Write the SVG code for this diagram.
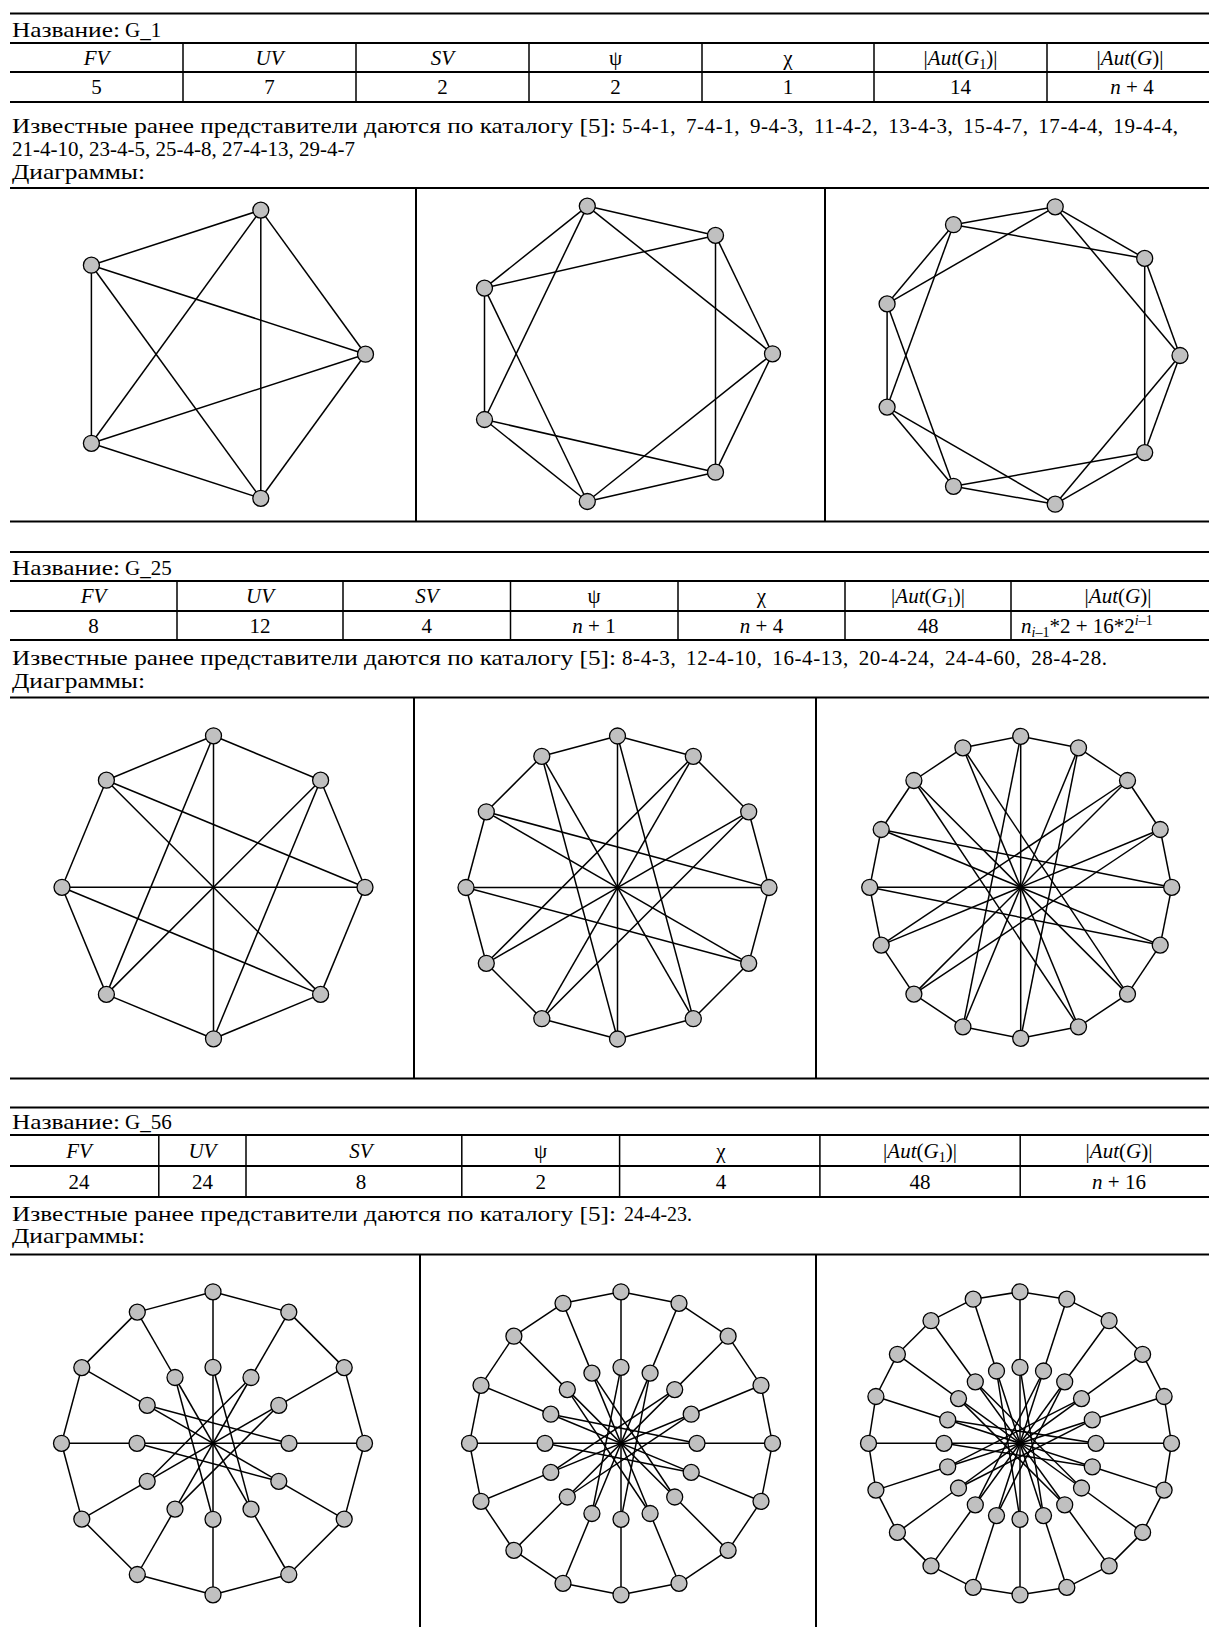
<svg xmlns="http://www.w3.org/2000/svg" width="1209" height="1627" viewBox="0 0 1209 1627">
<style>
text{font-family:"Liberation Serif","Times New Roman",serif;font-size:21px;fill:#000}
.c{text-anchor:middle}
.i{font-style:italic}
.hl{stroke:#000;stroke-width:2}
.vl{stroke:#000;stroke-width:1.5}
.e line{stroke:#000;stroke-width:1.5}
.n circle{fill:#c0c0c0;stroke:#000;stroke-width:1.3}
</style>
<rect width="1209" height="1627" fill="#fff"/>

<!-- ================= SECTION 1 ================= -->
<g id="table1">
<line class="hl" x1="10" y1="13.5" x2="1209" y2="13.5"/>
<line class="hl" x1="10" y1="43" x2="1209" y2="43"/>
<line class="hl" x1="10" y1="72" x2="1209" y2="72"/>
<line class="hl" x1="10" y1="102" x2="1209" y2="102"/>
<line class="vl" x1="183" y1="43" x2="183" y2="102"/>
<line class="vl" x1="356" y1="43" x2="356" y2="102"/>
<line class="vl" x1="529" y1="43" x2="529" y2="102"/>
<line class="vl" x1="702" y1="43" x2="702" y2="102"/>
<line class="vl" x1="874" y1="43" x2="874" y2="102"/>
<line class="vl" x1="1047" y1="43" x2="1047" y2="102"/>
<text x="12" y="37" textLength="108" lengthAdjust="spacingAndGlyphs">Название:</text>
<text x="125" y="37">G_1</text>
<text x="96.5" y="64.5" class="c i">FV</text>
<text x="269.5" y="64.5" class="c i">UV</text>
<text x="442.5" y="64.5" class="c i">SV</text>
<text x="615.5" y="64.5" class="c">ψ</text>
<text x="788" y="64.5" class="c">χ</text>
<text x="960.5" y="64.5" class="c">|<tspan class="i">Aut</tspan>(<tspan class="i">G</tspan><tspan font-size="14" dy="4">1</tspan><tspan dy="-4">)|</tspan></text>
<text x="1130" y="64.5" class="c">|<tspan class="i">Aut</tspan>(<tspan class="i">G</tspan>)|</text>
<text x="96.5" y="94" class="c">5</text>
<text x="269.5" y="94" class="c">7</text>
<text x="442.5" y="94" class="c">2</text>
<text x="615.5" y="94" class="c">2</text>
<text x="788" y="94" class="c">1</text>
<text x="960.5" y="94" class="c">14</text>
<text x="1132" y="94" class="c"><tspan class="i">n</tspan> + 4</text>
<text x="12" y="132.5" textLength="604" lengthAdjust="spacingAndGlyphs">Известные ранее представители даются по каталогу [5]:</text>
<text x="622" y="132.5" style="word-spacing:4px" textLength="556" lengthAdjust="spacing">5-4-1, 7-4-1, 9-4-3, 11-4-2, 13-4-3, 15-4-7, 17-4-4, 19-4-4,</text>
<text x="12" y="156">21-4-10, 23-4-5, 25-4-8, 27-4-13, 29-4-7</text>
<text x="12" y="179" textLength="133" lengthAdjust="spacingAndGlyphs">Диаграммы:</text>
<line class="hl" x1="10" y1="188" x2="1209" y2="188"/>
<line class="hl" x1="10" y1="521.5" x2="1209" y2="521.5"/>
<line class="hl" x1="416" y1="188" x2="416" y2="521.5"/>
<line class="hl" x1="825" y1="188" x2="825" y2="521.5"/>
</g>

<g id="edges1" class="e">
<line x1="365.5" y1="354.2" x2="260.8" y2="210.1"/>
<line x1="365.5" y1="354.2" x2="91.4" y2="265.2"/>
<line x1="365.5" y1="354.2" x2="91.4" y2="443.3"/>
<line x1="365.5" y1="354.2" x2="260.8" y2="498.3"/>
<line x1="260.8" y1="210.1" x2="91.4" y2="265.2"/>
<line x1="260.8" y1="210.1" x2="91.4" y2="443.3"/>
<line x1="260.8" y1="210.1" x2="260.8" y2="498.3"/>
<line x1="91.4" y1="265.2" x2="91.4" y2="443.3"/>
<line x1="91.4" y1="265.2" x2="260.8" y2="498.3"/>
<line x1="91.4" y1="443.3" x2="260.8" y2="498.3"/>

<line x1="772.5" y1="353.8" x2="715.5" y2="235.4"/>
<line x1="715.5" y1="235.4" x2="587.3" y2="206.1"/>
<line x1="587.3" y1="206.1" x2="484.5" y2="288.1"/>
<line x1="484.5" y1="288.1" x2="484.5" y2="419.5"/>
<line x1="484.5" y1="419.5" x2="587.3" y2="501.5"/>
<line x1="587.3" y1="501.5" x2="715.5" y2="472.2"/>
<line x1="715.5" y1="472.2" x2="772.5" y2="353.8"/>
<line x1="772.5" y1="353.8" x2="587.3" y2="206.1"/>
<line x1="715.5" y1="235.4" x2="484.5" y2="288.1"/>
<line x1="587.3" y1="206.1" x2="484.5" y2="419.5"/>
<line x1="484.5" y1="288.1" x2="587.3" y2="501.5"/>
<line x1="484.5" y1="419.5" x2="715.5" y2="472.2"/>
<line x1="587.3" y1="501.5" x2="772.5" y2="353.8"/>
<line x1="715.5" y1="472.2" x2="715.5" y2="235.4"/>

<line x1="1180" y1="355.5" x2="1144.7" y2="258.4"/>
<line x1="1144.7" y1="258.4" x2="1055.2" y2="206.8"/>
<line x1="1055.2" y1="206.8" x2="953.5" y2="224.7"/>
<line x1="953.5" y1="224.7" x2="887.1" y2="303.9"/>
<line x1="887.1" y1="303.9" x2="887.1" y2="407.1"/>
<line x1="887.1" y1="407.1" x2="953.5" y2="486.3"/>
<line x1="953.5" y1="486.3" x2="1055.2" y2="504.2"/>
<line x1="1055.2" y1="504.2" x2="1144.7" y2="452.6"/>
<line x1="1144.7" y1="452.6" x2="1180" y2="355.5"/>
<line x1="1180" y1="355.5" x2="1055.2" y2="206.8"/>
<line x1="1144.7" y1="258.4" x2="953.5" y2="224.7"/>
<line x1="1055.2" y1="206.8" x2="887.1" y2="303.9"/>
<line x1="953.5" y1="224.7" x2="887.1" y2="407.1"/>
<line x1="887.1" y1="303.9" x2="953.5" y2="486.3"/>
<line x1="887.1" y1="407.1" x2="1055.2" y2="504.2"/>
<line x1="953.5" y1="486.3" x2="1144.7" y2="452.6"/>
<line x1="1055.2" y1="504.2" x2="1180" y2="355.5"/>
<line x1="1144.7" y1="452.6" x2="1144.7" y2="258.4"/>
</g>

<g id="nodes1" class="n">
<g id="a0"><circle cx="365.5" cy="354.2" r="8"/></g>
<g id="a1"><circle cx="260.8" cy="210.1" r="8"/></g>
<g id="a2"><circle cx="91.4" cy="265.2" r="8"/></g>
<g id="a3"><circle cx="91.4" cy="443.3" r="8"/></g>
<g id="a4"><circle cx="260.8" cy="498.3" r="8"/></g>
<g id="b0"><circle cx="772.5" cy="353.8" r="8"/></g>
<g id="b1"><circle cx="715.5" cy="235.4" r="8"/></g>
<g id="b2"><circle cx="587.3" cy="206.1" r="8"/></g>
<g id="b3"><circle cx="484.5" cy="288.1" r="8"/></g>
<g id="b4"><circle cx="484.5" cy="419.5" r="8"/></g>
<g id="b5"><circle cx="587.3" cy="501.5" r="8"/></g>
<g id="b6"><circle cx="715.5" cy="472.2" r="8"/></g>
<g id="c0"><circle cx="1180" cy="355.5" r="8"/></g>
<g id="c1"><circle cx="1144.7" cy="258.4" r="8"/></g>
<g id="c2"><circle cx="1055.2" cy="206.8" r="8"/></g>
<g id="c3"><circle cx="953.5" cy="224.7" r="8"/></g>
<g id="c4"><circle cx="887.1" cy="303.9" r="8"/></g>
<g id="c5"><circle cx="887.1" cy="407.1" r="8"/></g>
<g id="c6"><circle cx="953.5" cy="486.3" r="8"/></g>
<g id="c7"><circle cx="1055.2" cy="504.2" r="8"/></g>
<g id="c8"><circle cx="1144.7" cy="452.6" r="8"/></g>
</g>

<!-- ================= SECTION 2 ================= -->
<g id="table2">
<line class="hl" x1="10" y1="552" x2="1209" y2="552"/>
<line class="hl" x1="10" y1="581" x2="1209" y2="581"/>
<line class="hl" x1="10" y1="611" x2="1209" y2="611"/>
<line class="hl" x1="10" y1="640" x2="1209" y2="640"/>
<line class="vl" x1="177" y1="581" x2="177" y2="640"/>
<line class="vl" x1="343" y1="581" x2="343" y2="640"/>
<line class="vl" x1="510.5" y1="581" x2="510.5" y2="640"/>
<line class="vl" x1="678" y1="581" x2="678" y2="640"/>
<line class="vl" x1="845" y1="581" x2="845" y2="640"/>
<line class="vl" x1="1011" y1="581" x2="1011" y2="640"/>
<text x="12" y="575" textLength="108" lengthAdjust="spacingAndGlyphs">Название:</text>
<text x="125" y="575">G_25</text>
<text x="93.5" y="603" class="c i">FV</text>
<text x="260" y="603" class="c i">UV</text>
<text x="426.8" y="603" class="c i">SV</text>
<text x="594" y="603" class="c">ψ</text>
<text x="761.5" y="603" class="c">χ</text>
<text x="928" y="603" class="c">|<tspan class="i">Aut</tspan>(<tspan class="i">G</tspan><tspan font-size="14" dy="4">1</tspan><tspan dy="-4">)|</tspan></text>
<text x="1118" y="603" class="c">|<tspan class="i">Aut</tspan>(<tspan class="i">G</tspan>)|</text>
<text x="93.5" y="632.5" class="c">8</text>
<text x="260" y="632.5" class="c">12</text>
<text x="426.8" y="632.5" class="c">4</text>
<text x="594" y="632.5" class="c"><tspan class="i">n</tspan> + 1</text>
<text x="761.5" y="632.5" class="c"><tspan class="i">n</tspan> + 4</text>
<text x="928" y="632.5" class="c">48</text>
<text x="1021" y="632.5"><tspan class="i">n</tspan><tspan class="i" font-size="14" dy="4">i</tspan><tspan font-size="14">–1</tspan><tspan dy="-4">*2 + 16*2</tspan><tspan class="i" font-size="14" dy="-8">i</tspan><tspan font-size="14">–1</tspan></text>
<text x="12" y="664.5" textLength="604" lengthAdjust="spacingAndGlyphs">Известные ранее представители даются по каталогу [5]:</text>
<text x="622" y="664.5" style="word-spacing:4px" textLength="485" lengthAdjust="spacing">8-4-3, 12-4-10, 16-4-13, 20-4-24, 24-4-60, 28-4-28.</text>
<text x="12" y="688" textLength="133" lengthAdjust="spacingAndGlyphs">Диаграммы:</text>
<line class="hl" x1="10" y1="697.5" x2="1209" y2="697.5"/>
<line class="hl" x1="10" y1="1078.5" x2="1209" y2="1078.5"/>
<line class="hl" x1="414" y1="697.5" x2="414" y2="1078.5"/>
<line class="hl" x1="816" y1="697.5" x2="816" y2="1078.5"/>
</g>

<g id="edges2" class="e">
<line x1="365" y1="887.3" x2="320.6" y2="780.2"/>
<line x1="320.6" y1="780.2" x2="213.5" y2="735.8"/>
<line x1="213.5" y1="735.8" x2="106.4" y2="780.2"/>
<line x1="106.4" y1="780.2" x2="62" y2="887.3"/>
<line x1="62" y1="887.3" x2="106.4" y2="994.4"/>
<line x1="106.4" y1="994.4" x2="213.5" y2="1038.8"/>
<line x1="213.5" y1="1038.8" x2="320.6" y2="994.4"/>
<line x1="320.6" y1="994.4" x2="365" y2="887.3"/>
<line x1="365" y1="887.3" x2="62" y2="887.3"/>
<line x1="320.6" y1="780.2" x2="106.4" y2="994.4"/>
<line x1="213.5" y1="735.8" x2="213.5" y2="1038.8"/>
<line x1="106.4" y1="780.2" x2="320.6" y2="994.4"/>
<line x1="365" y1="887.3" x2="106.4" y2="780.2"/>
<line x1="213.5" y1="735.8" x2="106.4" y2="994.4"/>
<line x1="62" y1="887.3" x2="320.6" y2="994.4"/>
<line x1="213.5" y1="1038.8" x2="320.6" y2="780.2"/>
<line x1="769" y1="887.5" x2="748.7" y2="811.8"/>
<line x1="748.7" y1="811.8" x2="693.3" y2="756.3"/>
<line x1="693.3" y1="756.3" x2="617.5" y2="736"/>
<line x1="617.5" y1="736" x2="541.8" y2="756.3"/>
<line x1="541.8" y1="756.3" x2="486.3" y2="811.8"/>
<line x1="486.3" y1="811.8" x2="466" y2="887.5"/>
<line x1="466" y1="887.5" x2="486.3" y2="963.3"/>
<line x1="486.3" y1="963.3" x2="541.8" y2="1018.7"/>
<line x1="541.8" y1="1018.7" x2="617.5" y2="1039"/>
<line x1="617.5" y1="1039" x2="693.3" y2="1018.7"/>
<line x1="693.3" y1="1018.7" x2="748.7" y2="963.3"/>
<line x1="748.7" y1="963.3" x2="769" y2="887.5"/>
<line x1="769" y1="887.5" x2="466" y2="887.5"/>
<line x1="748.7" y1="811.8" x2="486.3" y2="963.3"/>
<line x1="693.3" y1="756.3" x2="541.8" y2="1018.7"/>
<line x1="617.5" y1="736" x2="617.5" y2="1039"/>
<line x1="541.8" y1="756.3" x2="693.3" y2="1018.7"/>
<line x1="486.3" y1="811.8" x2="748.7" y2="963.3"/>
<line x1="769" y1="887.5" x2="486.3" y2="811.8"/>
<line x1="693.3" y1="756.3" x2="486.3" y2="963.3"/>
<line x1="541.8" y1="756.3" x2="617.5" y2="1039"/>
<line x1="466" y1="887.5" x2="748.7" y2="963.3"/>
<line x1="541.8" y1="1018.7" x2="748.7" y2="811.8"/>
<line x1="693.3" y1="1018.7" x2="617.5" y2="736"/>
<line x1="1171.7" y1="887.3" x2="1160.2" y2="829.5"/>
<line x1="1160.2" y1="829.5" x2="1127.5" y2="780.5"/>
<line x1="1127.5" y1="780.5" x2="1078.5" y2="747.8"/>
<line x1="1078.5" y1="747.8" x2="1020.7" y2="736.3"/>
<line x1="1020.7" y1="736.3" x2="962.9" y2="747.8"/>
<line x1="962.9" y1="747.8" x2="913.9" y2="780.5"/>
<line x1="913.9" y1="780.5" x2="881.2" y2="829.5"/>
<line x1="881.2" y1="829.5" x2="869.7" y2="887.3"/>
<line x1="869.7" y1="887.3" x2="881.2" y2="945.1"/>
<line x1="881.2" y1="945.1" x2="913.9" y2="994.1"/>
<line x1="913.9" y1="994.1" x2="962.9" y2="1026.8"/>
<line x1="962.9" y1="1026.8" x2="1020.7" y2="1038.3"/>
<line x1="1020.7" y1="1038.3" x2="1078.5" y2="1026.8"/>
<line x1="1078.5" y1="1026.8" x2="1127.5" y2="994.1"/>
<line x1="1127.5" y1="994.1" x2="1160.2" y2="945.1"/>
<line x1="1160.2" y1="945.1" x2="1171.7" y2="887.3"/>
<line x1="1171.7" y1="887.3" x2="869.7" y2="887.3"/>
<line x1="1160.2" y1="829.5" x2="881.2" y2="945.1"/>
<line x1="1127.5" y1="780.5" x2="913.9" y2="994.1"/>
<line x1="1078.5" y1="747.8" x2="962.9" y2="1026.8"/>
<line x1="1020.7" y1="736.3" x2="1020.7" y2="1038.3"/>
<line x1="962.9" y1="747.8" x2="1078.5" y2="1026.8"/>
<line x1="913.9" y1="780.5" x2="1127.5" y2="994.1"/>
<line x1="881.2" y1="829.5" x2="1160.2" y2="945.1"/>
<line x1="1171.7" y1="887.3" x2="881.2" y2="829.5"/>
<line x1="1127.5" y1="780.5" x2="881.2" y2="945.1"/>
<line x1="1020.7" y1="736.3" x2="962.9" y2="1026.8"/>
<line x1="913.9" y1="780.5" x2="1078.5" y2="1026.8"/>
<line x1="869.7" y1="887.3" x2="1160.2" y2="945.1"/>
<line x1="913.9" y1="994.1" x2="1160.2" y2="829.5"/>
<line x1="1020.7" y1="1038.3" x2="1078.5" y2="747.8"/>
<line x1="1127.5" y1="994.1" x2="962.9" y2="747.8"/>
</g>

<g id="nodes2" class="n">
<g id="d0"><circle cx="365" cy="887.3" r="8"/></g>
<g id="d1"><circle cx="320.6" cy="780.2" r="8"/></g>
<g id="d2"><circle cx="213.5" cy="735.8" r="8"/></g>
<g id="d3"><circle cx="106.4" cy="780.2" r="8"/></g>
<g id="d4"><circle cx="62" cy="887.3" r="8"/></g>
<g id="d5"><circle cx="106.4" cy="994.4" r="8"/></g>
<g id="d6"><circle cx="213.5" cy="1038.8" r="8"/></g>
<g id="d7"><circle cx="320.6" cy="994.4" r="8"/></g>
<g id="e0"><circle cx="769" cy="887.5" r="8"/></g>
<g id="e1"><circle cx="748.7" cy="811.8" r="8"/></g>
<g id="e2"><circle cx="693.3" cy="756.3" r="8"/></g>
<g id="e3"><circle cx="617.5" cy="736" r="8"/></g>
<g id="e4"><circle cx="541.8" cy="756.3" r="8"/></g>
<g id="e5"><circle cx="486.3" cy="811.8" r="8"/></g>
<g id="e6"><circle cx="466" cy="887.5" r="8"/></g>
<g id="e7"><circle cx="486.3" cy="963.3" r="8"/></g>
<g id="e8"><circle cx="541.8" cy="1018.7" r="8"/></g>
<g id="e9"><circle cx="617.5" cy="1039" r="8"/></g>
<g id="e10"><circle cx="693.3" cy="1018.7" r="8"/></g>
<g id="e11"><circle cx="748.7" cy="963.3" r="8"/></g>
<g id="f0"><circle cx="1171.7" cy="887.3" r="8"/></g>
<g id="f1"><circle cx="1160.2" cy="829.5" r="8"/></g>
<g id="f2"><circle cx="1127.5" cy="780.5" r="8"/></g>
<g id="f3"><circle cx="1078.5" cy="747.8" r="8"/></g>
<g id="f4"><circle cx="1020.7" cy="736.3" r="8"/></g>
<g id="f5"><circle cx="962.9" cy="747.8" r="8"/></g>
<g id="f6"><circle cx="913.9" cy="780.5" r="8"/></g>
<g id="f7"><circle cx="881.2" cy="829.5" r="8"/></g>
<g id="f8"><circle cx="869.7" cy="887.3" r="8"/></g>
<g id="f9"><circle cx="881.2" cy="945.1" r="8"/></g>
<g id="f10"><circle cx="913.9" cy="994.1" r="8"/></g>
<g id="f11"><circle cx="962.9" cy="1026.8" r="8"/></g>
<g id="f12"><circle cx="1020.7" cy="1038.3" r="8"/></g>
<g id="f13"><circle cx="1078.5" cy="1026.8" r="8"/></g>
<g id="f14"><circle cx="1127.5" cy="994.1" r="8"/></g>
<g id="f15"><circle cx="1160.2" cy="945.1" r="8"/></g>
</g>

<!-- ================= SECTION 3 ================= -->
<g id="table3">
<line class="hl" x1="10" y1="1107.5" x2="1209" y2="1107.5"/>
<line class="hl" x1="10" y1="1135" x2="1209" y2="1135"/>
<line class="hl" x1="10" y1="1166" x2="1209" y2="1166"/>
<line class="hl" x1="10" y1="1197" x2="1209" y2="1197"/>
<line class="vl" x1="158.8" y1="1135" x2="158.8" y2="1197"/>
<line class="vl" x1="246" y1="1135" x2="246" y2="1197"/>
<line class="vl" x1="461.8" y1="1135" x2="461.8" y2="1197"/>
<line class="vl" x1="619.6" y1="1135" x2="619.6" y2="1197"/>
<line class="vl" x1="819.9" y1="1135" x2="819.9" y2="1197"/>
<line class="vl" x1="1020.2" y1="1135" x2="1020.2" y2="1197"/>
<text x="12" y="1129" textLength="108" lengthAdjust="spacingAndGlyphs">Название:</text>
<text x="125" y="1129">G_56</text>
<text x="79" y="1157.5" class="c i">FV</text>
<text x="202.4" y="1157.5" class="c i">UV</text>
<text x="361" y="1157.5" class="c i">SV</text>
<text x="540.7" y="1157.5" class="c">ψ</text>
<text x="721" y="1157.5" class="c">χ</text>
<text x="920" y="1157.5" class="c">|<tspan class="i">Aut</tspan>(<tspan class="i">G</tspan><tspan font-size="14" dy="4">1</tspan><tspan dy="-4">)|</tspan></text>
<text x="1119" y="1157.5" class="c">|<tspan class="i">Aut</tspan>(<tspan class="i">G</tspan>)|</text>
<text x="79" y="1188.5" class="c">24</text>
<text x="202.4" y="1188.5" class="c">24</text>
<text x="361" y="1188.5" class="c">8</text>
<text x="540.7" y="1188.5" class="c">2</text>
<text x="721" y="1188.5" class="c">4</text>
<text x="920" y="1188.5" class="c">48</text>
<text x="1119" y="1188.5" class="c"><tspan class="i">n</tspan> + 16</text>
<text x="12" y="1221" textLength="604" lengthAdjust="spacingAndGlyphs">Известные ранее представители даются по каталогу [5]:</text>
<text x="624" y="1221" textLength="68" lengthAdjust="spacingAndGlyphs">24-4-23.</text>
<text x="12" y="1243" textLength="133" lengthAdjust="spacingAndGlyphs">Диаграммы:</text>
<line class="hl" x1="10" y1="1254.5" x2="1209" y2="1254.5"/>
<line class="hl" x1="420" y1="1254.5" x2="420" y2="1627"/>
<line class="hl" x1="816" y1="1254.5" x2="816" y2="1627"/>
</g>

<g id="edges3" class="e">
<line x1="364.5" y1="1443.3" x2="344.2" y2="1367.6"/>
<line x1="344.2" y1="1367.6" x2="288.8" y2="1312.1"/>
<line x1="288.8" y1="1312.1" x2="213" y2="1291.8"/>
<line x1="213" y1="1291.8" x2="137.3" y2="1312.1"/>
<line x1="137.3" y1="1312.1" x2="81.8" y2="1367.6"/>
<line x1="81.8" y1="1367.6" x2="61.5" y2="1443.3"/>
<line x1="61.5" y1="1443.3" x2="81.8" y2="1519.1"/>
<line x1="81.8" y1="1519.1" x2="137.3" y2="1574.5"/>
<line x1="137.3" y1="1574.5" x2="213" y2="1594.8"/>
<line x1="213" y1="1594.8" x2="288.8" y2="1574.5"/>
<line x1="288.8" y1="1574.5" x2="344.2" y2="1519.1"/>
<line x1="344.2" y1="1519.1" x2="364.5" y2="1443.3"/>
<line x1="364.5" y1="1443.3" x2="289" y2="1443.3"/>
<line x1="344.2" y1="1367.6" x2="278.8" y2="1405.3"/>
<line x1="288.8" y1="1312.1" x2="251" y2="1377.5"/>
<line x1="213" y1="1291.8" x2="213" y2="1367.3"/>
<line x1="137.3" y1="1312.1" x2="175" y2="1377.5"/>
<line x1="81.8" y1="1367.6" x2="147.2" y2="1405.3"/>
<line x1="61.5" y1="1443.3" x2="137" y2="1443.3"/>
<line x1="81.8" y1="1519.1" x2="147.2" y2="1481.3"/>
<line x1="137.3" y1="1574.5" x2="175" y2="1509.1"/>
<line x1="213" y1="1594.8" x2="213" y2="1519.3"/>
<line x1="288.8" y1="1574.5" x2="251" y2="1509.1"/>
<line x1="344.2" y1="1519.1" x2="278.8" y2="1481.3"/>
<line x1="289" y1="1443.3" x2="137" y2="1443.3"/>
<line x1="278.8" y1="1405.3" x2="147.2" y2="1481.3"/>
<line x1="251" y1="1377.5" x2="175" y2="1509.1"/>
<line x1="213" y1="1367.3" x2="213" y2="1519.3"/>
<line x1="175" y1="1377.5" x2="251" y2="1509.1"/>
<line x1="147.2" y1="1405.3" x2="278.8" y2="1481.3"/>
<line x1="289" y1="1443.3" x2="147.2" y2="1405.3"/>
<line x1="251" y1="1377.5" x2="147.2" y2="1481.3"/>
<line x1="175" y1="1377.5" x2="213" y2="1519.3"/>
<line x1="137" y1="1443.3" x2="278.8" y2="1481.3"/>
<line x1="175" y1="1509.1" x2="278.8" y2="1405.3"/>
<line x1="251" y1="1509.1" x2="213" y2="1367.3"/>
<line x1="772.5" y1="1443.3" x2="761" y2="1385.3"/>
<line x1="761" y1="1385.3" x2="728.1" y2="1336.2"/>
<line x1="728.1" y1="1336.2" x2="679" y2="1303.3"/>
<line x1="679" y1="1303.3" x2="621" y2="1291.8"/>
<line x1="621" y1="1291.8" x2="563" y2="1303.3"/>
<line x1="563" y1="1303.3" x2="513.9" y2="1336.2"/>
<line x1="513.9" y1="1336.2" x2="481" y2="1385.3"/>
<line x1="481" y1="1385.3" x2="469.5" y2="1443.3"/>
<line x1="469.5" y1="1443.3" x2="481" y2="1501.3"/>
<line x1="481" y1="1501.3" x2="513.9" y2="1550.4"/>
<line x1="513.9" y1="1550.4" x2="563" y2="1583.3"/>
<line x1="563" y1="1583.3" x2="621" y2="1594.8"/>
<line x1="621" y1="1594.8" x2="679" y2="1583.3"/>
<line x1="679" y1="1583.3" x2="728.1" y2="1550.4"/>
<line x1="728.1" y1="1550.4" x2="761" y2="1501.3"/>
<line x1="761" y1="1501.3" x2="772.5" y2="1443.3"/>
<line x1="772.5" y1="1443.3" x2="697" y2="1443.3"/>
<line x1="761" y1="1385.3" x2="691.2" y2="1414.2"/>
<line x1="728.1" y1="1336.2" x2="674.7" y2="1389.6"/>
<line x1="679" y1="1303.3" x2="650.1" y2="1373.1"/>
<line x1="621" y1="1291.8" x2="621" y2="1367.3"/>
<line x1="563" y1="1303.3" x2="591.9" y2="1373.1"/>
<line x1="513.9" y1="1336.2" x2="567.3" y2="1389.6"/>
<line x1="481" y1="1385.3" x2="550.8" y2="1414.2"/>
<line x1="469.5" y1="1443.3" x2="545" y2="1443.3"/>
<line x1="481" y1="1501.3" x2="550.8" y2="1472.4"/>
<line x1="513.9" y1="1550.4" x2="567.3" y2="1497"/>
<line x1="563" y1="1583.3" x2="591.9" y2="1513.5"/>
<line x1="621" y1="1594.8" x2="621" y2="1519.3"/>
<line x1="679" y1="1583.3" x2="650.1" y2="1513.5"/>
<line x1="728.1" y1="1550.4" x2="674.7" y2="1497"/>
<line x1="761" y1="1501.3" x2="691.2" y2="1472.4"/>
<line x1="697" y1="1443.3" x2="545" y2="1443.3"/>
<line x1="691.2" y1="1414.2" x2="550.8" y2="1472.4"/>
<line x1="674.7" y1="1389.6" x2="567.3" y2="1497"/>
<line x1="650.1" y1="1373.1" x2="591.9" y2="1513.5"/>
<line x1="621" y1="1367.3" x2="621" y2="1519.3"/>
<line x1="591.9" y1="1373.1" x2="650.1" y2="1513.5"/>
<line x1="567.3" y1="1389.6" x2="674.7" y2="1497"/>
<line x1="550.8" y1="1414.2" x2="691.2" y2="1472.4"/>
<line x1="697" y1="1443.3" x2="550.8" y2="1414.2"/>
<line x1="674.7" y1="1389.6" x2="550.8" y2="1472.4"/>
<line x1="621" y1="1367.3" x2="591.9" y2="1513.5"/>
<line x1="567.3" y1="1389.6" x2="650.1" y2="1513.5"/>
<line x1="545" y1="1443.3" x2="691.2" y2="1472.4"/>
<line x1="567.3" y1="1497" x2="691.2" y2="1414.2"/>
<line x1="621" y1="1519.3" x2="650.1" y2="1373.1"/>
<line x1="674.7" y1="1497" x2="591.9" y2="1373.1"/>
<line x1="1171.5" y1="1443.3" x2="1164.1" y2="1396.5"/>
<line x1="1164.1" y1="1396.5" x2="1142.6" y2="1354.3"/>
<line x1="1142.6" y1="1354.3" x2="1109.1" y2="1320.7"/>
<line x1="1109.1" y1="1320.7" x2="1066.8" y2="1299.2"/>
<line x1="1066.8" y1="1299.2" x2="1020" y2="1291.8"/>
<line x1="1020" y1="1291.8" x2="973.2" y2="1299.2"/>
<line x1="973.2" y1="1299.2" x2="931" y2="1320.7"/>
<line x1="931" y1="1320.7" x2="897.4" y2="1354.3"/>
<line x1="897.4" y1="1354.3" x2="875.9" y2="1396.5"/>
<line x1="875.9" y1="1396.5" x2="868.5" y2="1443.3"/>
<line x1="868.5" y1="1443.3" x2="875.9" y2="1490.1"/>
<line x1="875.9" y1="1490.1" x2="897.4" y2="1532.4"/>
<line x1="897.4" y1="1532.4" x2="931" y2="1565.9"/>
<line x1="931" y1="1565.9" x2="973.2" y2="1587.4"/>
<line x1="973.2" y1="1587.4" x2="1020" y2="1594.8"/>
<line x1="1020" y1="1594.8" x2="1066.8" y2="1587.4"/>
<line x1="1066.8" y1="1587.4" x2="1109.1" y2="1565.9"/>
<line x1="1109.1" y1="1565.9" x2="1142.6" y2="1532.4"/>
<line x1="1142.6" y1="1532.4" x2="1164.1" y2="1490.1"/>
<line x1="1164.1" y1="1490.1" x2="1171.5" y2="1443.3"/>
<line x1="1171.5" y1="1443.3" x2="1096" y2="1443.3"/>
<line x1="1164.1" y1="1396.5" x2="1092.3" y2="1419.8"/>
<line x1="1142.6" y1="1354.3" x2="1081.5" y2="1398.6"/>
<line x1="1109.1" y1="1320.7" x2="1064.7" y2="1381.8"/>
<line x1="1066.8" y1="1299.2" x2="1043.5" y2="1371"/>
<line x1="1020" y1="1291.8" x2="1020" y2="1367.3"/>
<line x1="973.2" y1="1299.2" x2="996.5" y2="1371"/>
<line x1="931" y1="1320.7" x2="975.3" y2="1381.8"/>
<line x1="897.4" y1="1354.3" x2="958.5" y2="1398.6"/>
<line x1="875.9" y1="1396.5" x2="947.7" y2="1419.8"/>
<line x1="868.5" y1="1443.3" x2="944" y2="1443.3"/>
<line x1="875.9" y1="1490.1" x2="947.7" y2="1466.8"/>
<line x1="897.4" y1="1532.4" x2="958.5" y2="1488"/>
<line x1="931" y1="1565.9" x2="975.3" y2="1504.8"/>
<line x1="973.2" y1="1587.4" x2="996.5" y2="1515.6"/>
<line x1="1020" y1="1594.8" x2="1020" y2="1519.3"/>
<line x1="1066.8" y1="1587.4" x2="1043.5" y2="1515.6"/>
<line x1="1109.1" y1="1565.9" x2="1064.7" y2="1504.8"/>
<line x1="1142.6" y1="1532.4" x2="1081.5" y2="1488"/>
<line x1="1164.1" y1="1490.1" x2="1092.3" y2="1466.8"/>
<line x1="1096" y1="1443.3" x2="944" y2="1443.3"/>
<line x1="1092.3" y1="1419.8" x2="947.7" y2="1466.8"/>
<line x1="1081.5" y1="1398.6" x2="958.5" y2="1488"/>
<line x1="1064.7" y1="1381.8" x2="975.3" y2="1504.8"/>
<line x1="1043.5" y1="1371" x2="996.5" y2="1515.6"/>
<line x1="1020" y1="1367.3" x2="1020" y2="1519.3"/>
<line x1="996.5" y1="1371" x2="1043.5" y2="1515.6"/>
<line x1="975.3" y1="1381.8" x2="1064.7" y2="1504.8"/>
<line x1="958.5" y1="1398.6" x2="1081.5" y2="1488"/>
<line x1="947.7" y1="1419.8" x2="1092.3" y2="1466.8"/>
<line x1="1096" y1="1443.3" x2="947.7" y2="1419.8"/>
<line x1="1081.5" y1="1398.6" x2="947.7" y2="1466.8"/>
<line x1="1043.5" y1="1371" x2="975.3" y2="1504.8"/>
<line x1="996.5" y1="1371" x2="1020" y2="1519.3"/>
<line x1="958.5" y1="1398.6" x2="1064.7" y2="1504.8"/>
<line x1="944" y1="1443.3" x2="1092.3" y2="1466.8"/>
<line x1="958.5" y1="1488" x2="1092.3" y2="1419.8"/>
<line x1="996.5" y1="1515.6" x2="1064.7" y2="1381.8"/>
<line x1="1043.5" y1="1515.6" x2="1020" y2="1367.3"/>
<line x1="1081.5" y1="1488" x2="975.3" y2="1381.8"/>
</g>

<g id="nodes3" class="n">
<g id="go0"><circle cx="364.5" cy="1443.3" r="8"/></g>
<g id="go1"><circle cx="344.2" cy="1367.6" r="8"/></g>
<g id="go2"><circle cx="288.8" cy="1312.1" r="8"/></g>
<g id="go3"><circle cx="213" cy="1291.8" r="8"/></g>
<g id="go4"><circle cx="137.3" cy="1312.1" r="8"/></g>
<g id="go5"><circle cx="81.8" cy="1367.6" r="8"/></g>
<g id="go6"><circle cx="61.5" cy="1443.3" r="8"/></g>
<g id="go7"><circle cx="81.8" cy="1519.1" r="8"/></g>
<g id="go8"><circle cx="137.3" cy="1574.5" r="8"/></g>
<g id="go9"><circle cx="213" cy="1594.8" r="8"/></g>
<g id="go10"><circle cx="288.8" cy="1574.5" r="8"/></g>
<g id="go11"><circle cx="344.2" cy="1519.1" r="8"/></g>
<g id="gi0"><circle cx="289" cy="1443.3" r="8"/></g>
<g id="gi1"><circle cx="278.8" cy="1405.3" r="8"/></g>
<g id="gi2"><circle cx="251" cy="1377.5" r="8"/></g>
<g id="gi3"><circle cx="213" cy="1367.3" r="8"/></g>
<g id="gi4"><circle cx="175" cy="1377.5" r="8"/></g>
<g id="gi5"><circle cx="147.2" cy="1405.3" r="8"/></g>
<g id="gi6"><circle cx="137" cy="1443.3" r="8"/></g>
<g id="gi7"><circle cx="147.2" cy="1481.3" r="8"/></g>
<g id="gi8"><circle cx="175" cy="1509.1" r="8"/></g>
<g id="gi9"><circle cx="213" cy="1519.3" r="8"/></g>
<g id="gi10"><circle cx="251" cy="1509.1" r="8"/></g>
<g id="gi11"><circle cx="278.8" cy="1481.3" r="8"/></g>
<g id="ho0"><circle cx="772.5" cy="1443.3" r="8"/></g>
<g id="ho1"><circle cx="761" cy="1385.3" r="8"/></g>
<g id="ho2"><circle cx="728.1" cy="1336.2" r="8"/></g>
<g id="ho3"><circle cx="679" cy="1303.3" r="8"/></g>
<g id="ho4"><circle cx="621" cy="1291.8" r="8"/></g>
<g id="ho5"><circle cx="563" cy="1303.3" r="8"/></g>
<g id="ho6"><circle cx="513.9" cy="1336.2" r="8"/></g>
<g id="ho7"><circle cx="481" cy="1385.3" r="8"/></g>
<g id="ho8"><circle cx="469.5" cy="1443.3" r="8"/></g>
<g id="ho9"><circle cx="481" cy="1501.3" r="8"/></g>
<g id="ho10"><circle cx="513.9" cy="1550.4" r="8"/></g>
<g id="ho11"><circle cx="563" cy="1583.3" r="8"/></g>
<g id="ho12"><circle cx="621" cy="1594.8" r="8"/></g>
<g id="ho13"><circle cx="679" cy="1583.3" r="8"/></g>
<g id="ho14"><circle cx="728.1" cy="1550.4" r="8"/></g>
<g id="ho15"><circle cx="761" cy="1501.3" r="8"/></g>
<g id="hi0"><circle cx="697" cy="1443.3" r="8"/></g>
<g id="hi1"><circle cx="691.2" cy="1414.2" r="8"/></g>
<g id="hi2"><circle cx="674.7" cy="1389.6" r="8"/></g>
<g id="hi3"><circle cx="650.1" cy="1373.1" r="8"/></g>
<g id="hi4"><circle cx="621" cy="1367.3" r="8"/></g>
<g id="hi5"><circle cx="591.9" cy="1373.1" r="8"/></g>
<g id="hi6"><circle cx="567.3" cy="1389.6" r="8"/></g>
<g id="hi7"><circle cx="550.8" cy="1414.2" r="8"/></g>
<g id="hi8"><circle cx="545" cy="1443.3" r="8"/></g>
<g id="hi9"><circle cx="550.8" cy="1472.4" r="8"/></g>
<g id="hi10"><circle cx="567.3" cy="1497" r="8"/></g>
<g id="hi11"><circle cx="591.9" cy="1513.5" r="8"/></g>
<g id="hi12"><circle cx="621" cy="1519.3" r="8"/></g>
<g id="hi13"><circle cx="650.1" cy="1513.5" r="8"/></g>
<g id="hi14"><circle cx="674.7" cy="1497" r="8"/></g>
<g id="hi15"><circle cx="691.2" cy="1472.4" r="8"/></g>
<g id="io0"><circle cx="1171.5" cy="1443.3" r="8"/></g>
<g id="io1"><circle cx="1164.1" cy="1396.5" r="8"/></g>
<g id="io2"><circle cx="1142.6" cy="1354.3" r="8"/></g>
<g id="io3"><circle cx="1109.1" cy="1320.7" r="8"/></g>
<g id="io4"><circle cx="1066.8" cy="1299.2" r="8"/></g>
<g id="io5"><circle cx="1020" cy="1291.8" r="8"/></g>
<g id="io6"><circle cx="973.2" cy="1299.2" r="8"/></g>
<g id="io7"><circle cx="931" cy="1320.7" r="8"/></g>
<g id="io8"><circle cx="897.4" cy="1354.3" r="8"/></g>
<g id="io9"><circle cx="875.9" cy="1396.5" r="8"/></g>
<g id="io10"><circle cx="868.5" cy="1443.3" r="8"/></g>
<g id="io11"><circle cx="875.9" cy="1490.1" r="8"/></g>
<g id="io12"><circle cx="897.4" cy="1532.4" r="8"/></g>
<g id="io13"><circle cx="931" cy="1565.9" r="8"/></g>
<g id="io14"><circle cx="973.2" cy="1587.4" r="8"/></g>
<g id="io15"><circle cx="1020" cy="1594.8" r="8"/></g>
<g id="io16"><circle cx="1066.8" cy="1587.4" r="8"/></g>
<g id="io17"><circle cx="1109.1" cy="1565.9" r="8"/></g>
<g id="io18"><circle cx="1142.6" cy="1532.4" r="8"/></g>
<g id="io19"><circle cx="1164.1" cy="1490.1" r="8"/></g>
<g id="ii0"><circle cx="1096" cy="1443.3" r="8"/></g>
<g id="ii1"><circle cx="1092.3" cy="1419.8" r="8"/></g>
<g id="ii2"><circle cx="1081.5" cy="1398.6" r="8"/></g>
<g id="ii3"><circle cx="1064.7" cy="1381.8" r="8"/></g>
<g id="ii4"><circle cx="1043.5" cy="1371" r="8"/></g>
<g id="ii5"><circle cx="1020" cy="1367.3" r="8"/></g>
<g id="ii6"><circle cx="996.5" cy="1371" r="8"/></g>
<g id="ii7"><circle cx="975.3" cy="1381.8" r="8"/></g>
<g id="ii8"><circle cx="958.5" cy="1398.6" r="8"/></g>
<g id="ii9"><circle cx="947.7" cy="1419.8" r="8"/></g>
<g id="ii10"><circle cx="944" cy="1443.3" r="8"/></g>
<g id="ii11"><circle cx="947.7" cy="1466.8" r="8"/></g>
<g id="ii12"><circle cx="958.5" cy="1488" r="8"/></g>
<g id="ii13"><circle cx="975.3" cy="1504.8" r="8"/></g>
<g id="ii14"><circle cx="996.5" cy="1515.6" r="8"/></g>
<g id="ii15"><circle cx="1020" cy="1519.3" r="8"/></g>
<g id="ii16"><circle cx="1043.5" cy="1515.6" r="8"/></g>
<g id="ii17"><circle cx="1064.7" cy="1504.8" r="8"/></g>
<g id="ii18"><circle cx="1081.5" cy="1488" r="8"/></g>
<g id="ii19"><circle cx="1092.3" cy="1466.8" r="8"/></g>
</g>
</svg>
